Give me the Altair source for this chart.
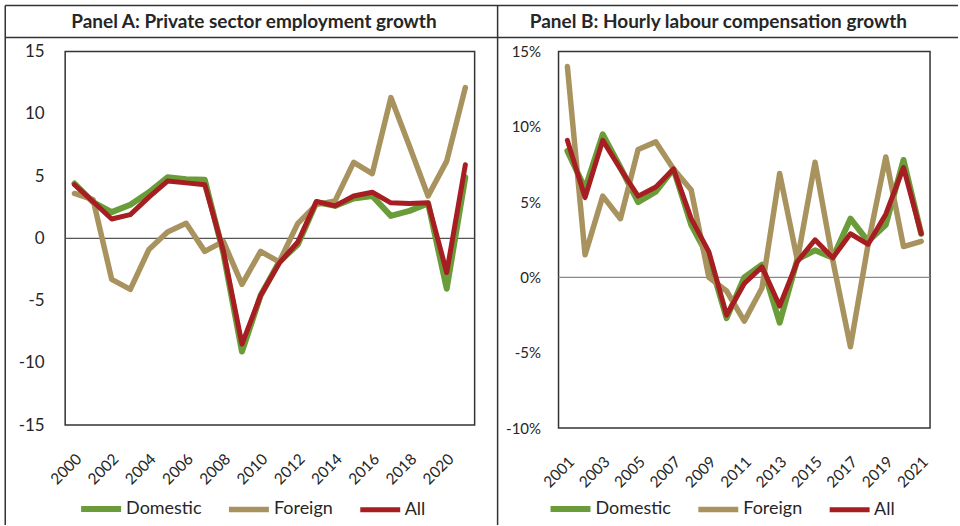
import altair as alt
import pandas as pd

# ---------------- data ----------------
series = ["Domestic", "Foreign", "All"]
colors = ["#6A9C3A", "#A8935E", "#A61E22"]

years_a = [2000, 2001, 2002, 2003, 2004, 2005, 2006, 2007, 2008, 2009, 2010,
           2011, 2012, 2013, 2014, 2015, 2016, 2017, 2018, 2019, 2020, 2021]
domestic_a = [4.4, 2.9, 2.1, 2.7, 3.7, 4.9, 4.75, 4.7, -1.2, -9.1, -4.6,
              -1.9, -0.5, 2.9, 2.6, 3.2, 3.4, 1.8, 2.2, 2.8, -4.05, 4.9]
foreign_a = [3.6, 3.1, -3.3, -4.1, -0.9, 0.5, 1.2, -1.05, -0.25, -3.7, -1.05,
             -1.9, 1.2, 2.7, 3.0, 6.1, 5.2, 11.3, 7.4, 3.4, 6.2, 12.1]
all_a = [4.3, 2.95, 1.55, 1.9, 3.3, 4.6, 4.45, 4.3, -1.0, -8.5, -4.6,
         -2.0, -0.3, 2.95, 2.6, 3.4, 3.7, 2.85, 2.8, 2.85, -2.75, 5.9]

years_b = [2001, 2002, 2003, 2004, 2005, 2006, 2007, 2008, 2009, 2010, 2011,
           2012, 2013, 2014, 2015, 2016, 2017, 2018, 2019, 2020, 2021]
domestic_b = [8.4, 5.9, 9.5, 7.3, 5.0, 5.7, 7.2, 3.5, 1.3, -2.7, 0.0,
              0.85, -3.0, 1.2, 1.8, 1.3, 3.9, 2.4, 3.5, 7.8, 2.9]
foreign_b = [14.0, 1.5, 5.4, 3.9, 8.5, 9.0, 7.2, 5.8, 0.0, -0.9, -2.9,
             -0.7, 6.9, 1.15, 7.65, 1.15, -4.6, 2.2, 8.0, 2.05, 2.4]
all_b = [9.1, 5.3, 9.1, 7.2, 5.4, 6.0, 7.2, 3.9, 1.7, -2.5, -0.4,
         0.7, -1.9, 1.05, 2.5, 1.3, 2.9, 2.2, 4.2, 7.3, 2.9]

title_a = "Panel A: Private sector employment growth"
title_b = "Panel B: Hourly labour compensation growth"
yticks_a = [-15, -10, -5, 0, 5, 10, 15]
yticks_b = [-10, -5, 0, 5, 10, 15]

FONT = "Lato"
TEXT = "#262626"
FRAME = "#333333"


def long_df(years, dom, forn, allv):
    rows = []
    for name, vals in zip(series, [dom, forn, allv]):
        for yr, v in zip(years, vals):
            rows.append({"year": yr, "value": v, "series": name})
    return pd.DataFrame(rows)


def panel(df, years, width, height, ydomain, yvalues, ylabel_expr, ylabel_size,
          ylabel_pad, title, title_x, legend_x, zero_color, extra=None):
    color = alt.Color(
        "series:N",
        scale=alt.Scale(domain=series, range=colors),
        legend=alt.Legend(
            title=None, orient="none", legendX=legend_x, legendY=435,
            direction="horizontal", symbolType="stroke", symbolSize=1600,
            symbolStrokeWidth=6, labelFontSize=18, labelFont=FONT,
            labelColor=TEXT, columnPadding=16, labelOffset=2,
        ),
    )
    x = alt.X(
        "year:O",
        scale=alt.Scale(type="point", padding=0.5),
        axis=alt.Axis(
            title=None, values=years[::2], labelAngle=-45, labelAlign="right",
            labelBaseline="middle", labelFontSize=15.5, labelFont=FONT,
            labelColor=TEXT, ticks=False, domain=False, labelPadding=31,
            labelOffset=4,
        ),
    )
    y = alt.Y(
        "value:Q",
        scale=alt.Scale(domain=ydomain, nice=False, zero=False),
        axis=alt.Axis(
            title=None, values=yvalues, labelExpr=ylabel_expr, grid=False,
            ticks=False, domain=False, labelFontSize=ylabel_size,
            labelFont=FONT, labelColor=TEXT, labelPadding=ylabel_pad,
        ),
    )
    lines = alt.Chart(df).mark_line(strokeJoin="round", strokeCap="round").encode(
        x=x, y=y, color=color,
        strokeWidth=alt.StrokeWidth("series:N", scale=alt.Scale(domain=series, range=[6.0, 5.0, 5.5]), legend=None),
    )
    one = pd.DataFrame({"t": [title]})
    zero = alt.Chart(one).mark_rule(color=zero_color, strokeWidth=1.3).encode(y=alt.datum(0))
    ttl = alt.Chart(one).mark_text(
        font=FONT, fontWeight="bold", fontSize=19, color=TEXT, baseline="middle", align="center"
    ).encode(text="t:N", x=alt.value(title_x), y=alt.value(-29.5))
    layers = [zero, lines, ttl]
    if extra:
        layers += extra
    return alt.layer(*layers).properties(width=width, height=height)


# frame lines for the surrounding table (positions relative to panel A plot origin)
frame_df = pd.DataFrame({"t": [""]})
frame = [
    alt.Chart(frame_df).mark_rule(color=FRAME, strokeWidth=1.5).encode(
        x=alt.value(-60), x2=alt.value(894), y=alt.value(-46), y2=alt.value(-46)),
    alt.Chart(frame_df).mark_rule(color=FRAME, strokeWidth=1.5).encode(
        x=alt.value(-60), x2=alt.value(894), y=alt.value(-14), y2=alt.value(-14)),
    alt.Chart(frame_df).mark_rule(color=FRAME, strokeWidth=1.5).encode(
        x=alt.value(-60), x2=alt.value(-60), y=alt.value(-46), y2=alt.value(474)),
    alt.Chart(frame_df).mark_rule(color=FRAME, strokeWidth=1.5).encode(
        x=alt.value(433), x2=alt.value(433), y=alt.value(-46), y2=alt.value(474)),
]

pa = panel(long_df(years_a, domestic_a, foreign_a, all_a), years_a, 410, 374,
           [-15, 15], yticks_a, "datum.value", 17, 21, title_a, 189, 13,
           "#555555", extra=frame)
pb = panel(long_df(years_b, domestic_b, foreign_b, all_b), years_b, 372, 377,
           [-10, 15], yticks_b, "datum.value + '%'", 15, 18, title_b, 160, -11,
           "#8a8a8a")

chart = alt.hconcat(pa, pb, spacing=84, bounds="flush").resolve_scale(
    color="independent", strokeWidth="independent", x="independent", y="independent"
).properties(
    padding={"left": 3.25, "top": 3.25, "right": 0, "bottom": 0},
    background="white",
).configure_view(stroke=FRAME, strokeWidth=1.5)

chart.save("out.html", embed_options={"renderer": "svg", "actions": False})
